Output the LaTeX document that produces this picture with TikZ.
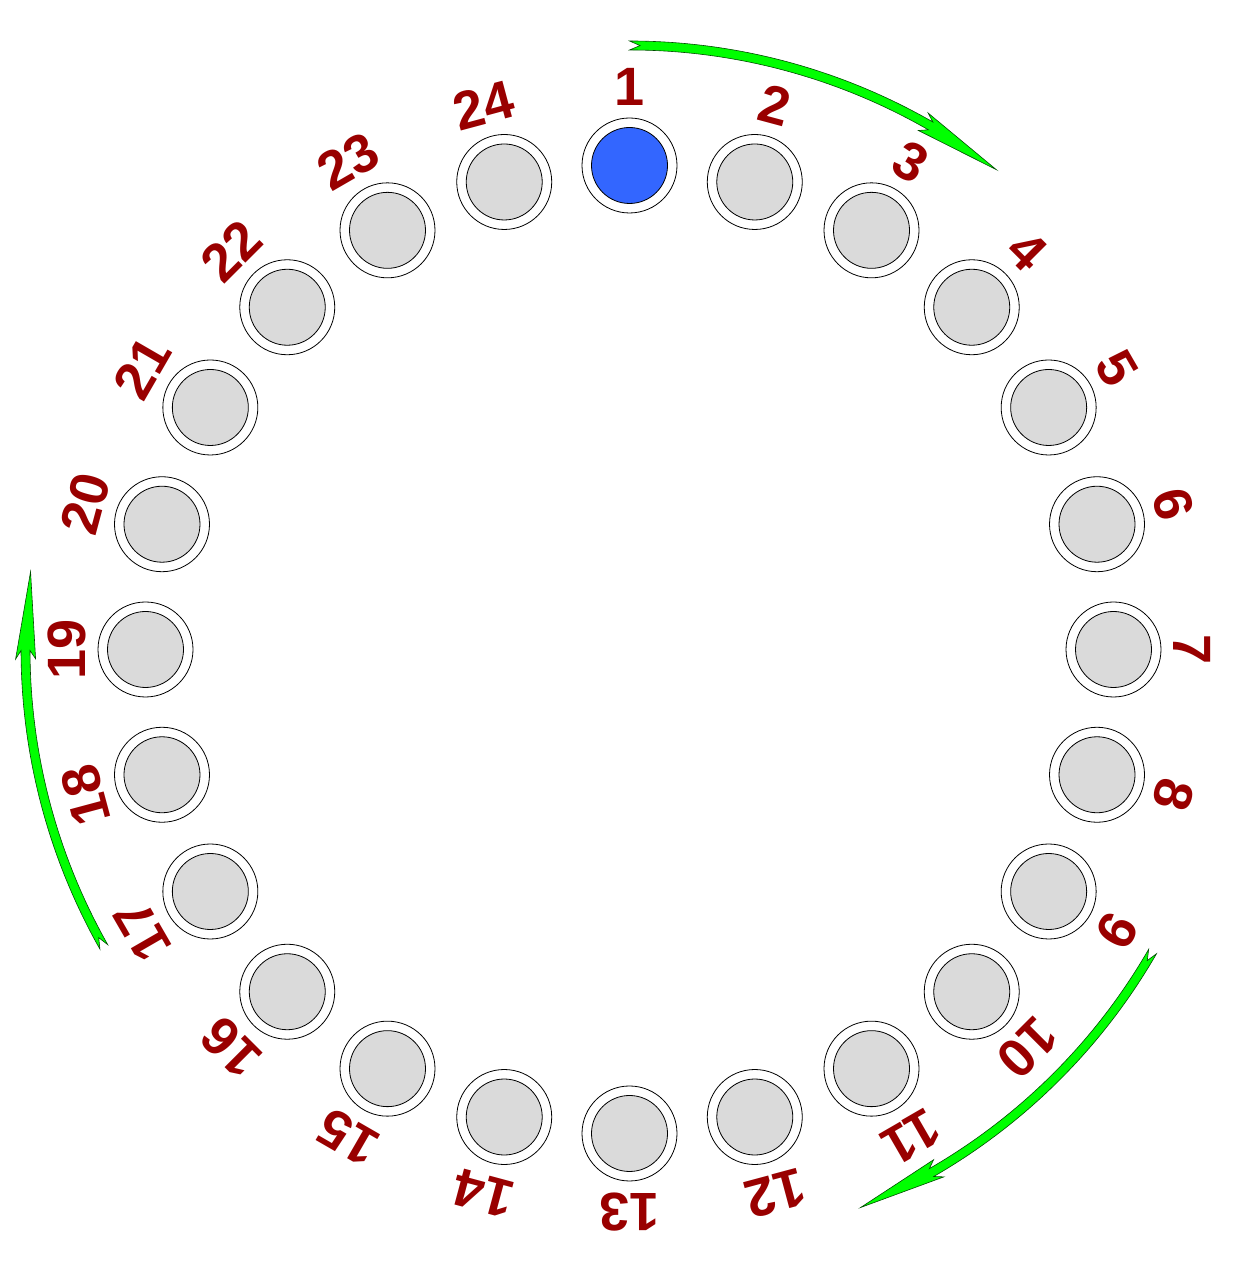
\documentclass[tikz,border=0pt]{standalone}
\usepackage{fontspec}
\setmainfont{Liberation Sans}
\definecolor{lblred}{RGB}{153,0,0}
\definecolor{ringgray}{RGB}{218,218,218}
\definecolor{bluefill}{RGB}{51,102,255}
\definecolor{arrowgreen}{RGB}{0,255,0}
\tikzset{
  outerring/.style={circle, draw=black, line width=0.8pt, fill=white, minimum size=95pt, inner sep=0pt},
  innerdisc/.style={circle, draw=black, line width=0.8pt, fill=ringgray, minimum size=76pt, inner sep=0pt},
  bluedisc/.style={innerdisc, fill=bluefill},
  numlabel/.style={text=lblred, font=\fontsize{54}{54}\selectfont\bfseries, inner sep=0pt, anchor=center},
  greenarrow/.style={fill=arrowgreen, draw=black!70!green, line width=0.6pt, line join=miter}
}
\newcommand{\greenarc}[2]{%
  \pgfmathsetmacro{\aT}{#1}%
  \pgfmathsetmacro{\aP}{#2}%
  \pgfmathsetmacro{\dd}{(#2>#1)?1:-1}%
  \pgfmathsetmacro{\aB}{\aP-\dd*7.5}%
  \pgfmathsetmacro{\aW}{\aP-\dd*8.3}%
  \pgfmathsetmacro{\aN}{\aT+\dd*1.0}%
  \draw[greenarrow] (\aT:608.5) arc[start angle=\aT, end angle=\aB, radius=608.5]
    -- (\aW:614) -- (\aP:604) -- (\aW:594) -- (\aB:599.5)
    arc[start angle=\aB, end angle=\aT, radius=599.5] -- (\aN:604) -- cycle;
}
\begin{document}
\begin{tikzpicture}[x=1pt,y=1pt]
\useasboundingbox (0,0) rectangle (1232,1272);
\begin{scope}[shift={(629.5,622.5)}]
  \foreach \i in {1,...,24}{
    \pgfmathsetmacro{\ang}{90-(\i-1)*15}
    \pgfmathsetmacro{\rot}{-(\i-1)*15}
    \node[outerring] (c\i) at (\ang:484) {};
    \node[numlabel, rotate=\rot] (l\i) at (\ang:563) {\i};
  }
  \foreach \i in {2,...,24}{
    \node[innerdisc] (d\i) at (c\i.center) {};
  }
  \node[bluedisc] (d1) at (c1.center) {};
  \greenarc{90}{52.6}
  \greenarc{-30}{-67.5}
  \greenarc{209.5}{172.6}
\end{scope}
\end{tikzpicture}
\end{document}
